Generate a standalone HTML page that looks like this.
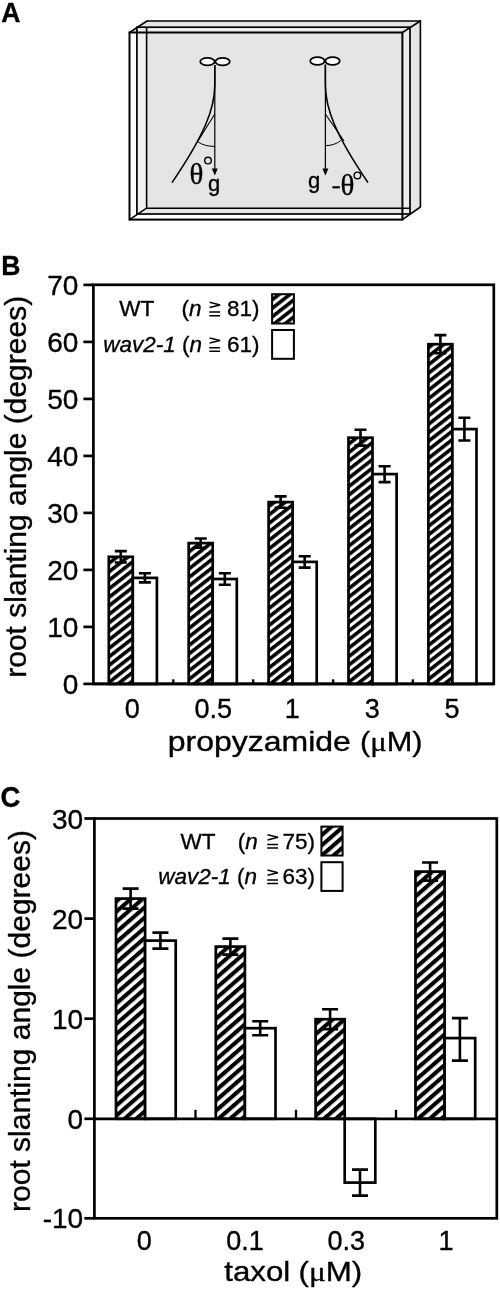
<!DOCTYPE html>
<html><head><meta charset="utf-8"><title>Figure</title>
<style>
html,body{margin:0;padding:0;background:#fff;}
body{width:500px;height:1291px;overflow:hidden;font-family:"Liberation Sans",sans-serif;}
svg{display:block;position:absolute;left:0;top:0;will-change:transform;}
text{font-family:"Liberation Sans",sans-serif;fill:#000;stroke:#000;stroke-width:0.35px;stroke-linejoin:round;}
.serif{font-family:"Liberation Serif",serif;}
.b{font-weight:bold;}
.i{font-style:italic;}
</style></head><body>
<svg width="500" height="1291" viewBox="0 0 500 1291">
<defs>
<pattern id="hatch" patternUnits="userSpaceOnUse" width="6.7" height="6.7" patternTransform="rotate(-38)">
<rect x="0" y="0" width="6.7" height="6.7" fill="#fff"/>
<rect x="0" y="0" width="6.7" height="3.6" fill="#000"/>
</pattern>
<pattern id="hatchC" patternUnits="userSpaceOnUse" width="7.7" height="7.7" patternTransform="rotate(-41)">
<rect x="0" y="0" width="7.7" height="7.7" fill="#fff"/>
<rect x="0" y="0" width="7.7" height="4.1" fill="#000"/>
</pattern>
</defs>
<rect x="0" y="0" width="500" height="1291" fill="#fff"/>

<text class="b" transform="translate(1.2,22) scale(0.95,1)" font-size="28">A</text>
<text class="b" transform="translate(1.2,274.6) scale(0.95,1)" font-size="28">B</text>
<text class="b" transform="translate(0.6,807) scale(0.95,1)" font-size="29">C</text>
<g id="panelA" fill="none" stroke="#000" stroke-linejoin="miter">
<polygon points="129.5,32.5 147,21 420.4,21 420.4,207 402.4,219.6 129.5,219.6" fill="#f1f1f1" stroke="none"/>
<polygon points="147,21 420.4,21 420.4,207 410,214 146.6,214 146.6,27.2 137,27.2" fill="#e5e5e5" stroke="none"/>
<rect x="137" y="27.2" width="273" height="5.3" fill="#ececec" stroke="none"/>
<rect x="402.4" y="27.2" width="7.6" height="186.8" fill="#ececec" stroke="none"/>
<rect x="129.5" y="32.5" width="7.4" height="187.1" fill="#fff" stroke="none"/>
<rect x="129.5" y="214" width="272.9" height="5.6" fill="#fff" stroke="none"/>
<path d="M147,21 H420.4 V207 M410,208.2 H146.6 V27.2" stroke-width="1.6"/>
<rect x="136.9" y="27.2" width="273.1" height="186.8" stroke-width="1.7"/>
<rect x="129.5" y="32.5" width="272.9" height="187.1" stroke-width="2"/>
<line x1="129.5" y1="32.5" x2="147" y2="21" stroke-width="1.6" stroke-linecap="round"/>
<line x1="402.4" y1="32.5" x2="420.4" y2="21" stroke-width="1.6" stroke-linecap="round"/>
<line x1="402.4" y1="219.6" x2="420.4" y2="207" stroke-width="1.6" stroke-linecap="round"/>
<line x1="129.5" y1="219.6" x2="146.6" y2="208.2" stroke-width="1.6" stroke-linecap="round"/>
<ellipse cx="207.4" cy="61.6" rx="7.2" ry="3.8" fill="#fff" stroke-width="1.7"/>
<ellipse cx="222.6" cy="61.6" rx="7.2" ry="3.8" fill="#fff" stroke-width="1.7"/>
<line x1="214.8" y1="65" x2="214.8" y2="170" stroke-width="1.2"/>
<polygon points="211.8,168.5 217.8,168.5 214.8,175.5" fill="#000" stroke="none"/>
<path d="M214.8,65 L214.8,85 C214.8,108 205,134 172,182.6" stroke-width="1.6"/>
<path d="M214.8,114 L198,141" stroke-width="1.1"/>
<path d="M198,142 Q205,146.5 214.8,146.4" stroke-width="1.0"/>
<ellipse cx="317.4" cy="61" rx="7.2" ry="3.8" fill="#fff" stroke-width="1.7"/>
<ellipse cx="332.6" cy="61" rx="7.2" ry="3.8" fill="#fff" stroke-width="1.7"/>
<line x1="325.4" y1="64.5" x2="325.4" y2="170" stroke-width="1.2"/>
<polygon points="322.4,168.5 328.4,168.5 325.4,175.5" fill="#000" stroke="none"/>
<path d="M325.4,64.5 L325.4,85 C325.4,108 335,134 368,182.6" stroke-width="1.6"/>
<path d="M325.4,114 L344,141" stroke-width="1.1"/>
<path d="M325.4,145.6 Q334.5,145.6 340.8,140.6" stroke-width="1.0"/>
</g>
<text class="serif" x="189.6" y="183.6" font-size="29">θ</text>
<circle cx="208" cy="160.6" r="3.3" fill="none" stroke="#000" stroke-width="1.4"/>
<text x="208" y="190.6" font-size="22">g</text>
<text x="308" y="188" font-size="22">g</text>
<rect x="332.4" y="186.2" width="7.4" height="2.2" fill="#000"/>
<text class="serif" x="340.6" y="195.1" font-size="29">θ</text>
<circle cx="357.4" cy="175.4" r="3.3" fill="none" stroke="#000" stroke-width="1.4"/>
<rect x="93.4" y="284.8" width="400.4" height="399.09999999999997" fill="#fff" stroke="#000" stroke-width="2.7"/>
<line x1="83.4" y1="683.9" x2="93.4" y2="683.9" stroke="#000" stroke-width="2.7"/>
<text x="78.4" y="693.9" font-size="28" text-anchor="end">0</text>
<line x1="83.4" y1="626.9" x2="93.4" y2="626.9" stroke="#000" stroke-width="2.7"/>
<text x="78.4" y="636.9" font-size="28" text-anchor="end">10</text>
<line x1="83.4" y1="569.9" x2="93.4" y2="569.9" stroke="#000" stroke-width="2.7"/>
<text x="78.4" y="579.9" font-size="28" text-anchor="end">20</text>
<line x1="83.4" y1="512.9" x2="93.4" y2="512.9" stroke="#000" stroke-width="2.7"/>
<text x="78.4" y="522.9" font-size="28" text-anchor="end">30</text>
<line x1="83.4" y1="455.9" x2="93.4" y2="455.9" stroke="#000" stroke-width="2.7"/>
<text x="78.4" y="465.9" font-size="28" text-anchor="end">40</text>
<line x1="83.4" y1="398.9" x2="93.4" y2="398.9" stroke="#000" stroke-width="2.7"/>
<text x="78.4" y="408.9" font-size="28" text-anchor="end">50</text>
<line x1="83.4" y1="341.9" x2="93.4" y2="341.9" stroke="#000" stroke-width="2.7"/>
<text x="78.4" y="351.9" font-size="28" text-anchor="end">60</text>
<line x1="83.4" y1="284.9" x2="93.4" y2="284.9" stroke="#000" stroke-width="2.7"/>
<text x="78.4" y="294.9" font-size="28" text-anchor="end">70</text>
<rect x="108.8" y="556.8" width="24.0" height="127.1" fill="url(#hatch)" stroke="#000" stroke-width="2.7"/>
<path d="M114.8,551.1 H126.8 M114.8,562.5 H126.8 M120.8,551.1 V562.5" fill="none" stroke="#000" stroke-width="2.6"/>
<rect x="132.8" y="577.9" width="24.1" height="106.0" fill="#fff" stroke="#000" stroke-width="2.7"/>
<path d="M138.9,573.3 H150.9 M138.9,582.4 H150.9 M144.9,573.3 V582.4" fill="none" stroke="#000" stroke-width="2.6"/>
<rect x="188.7" y="543.1" width="24.0" height="140.8" fill="url(#hatch)" stroke="#000" stroke-width="2.7"/>
<path d="M194.7,538.5 H206.7 M194.7,547.7 H206.7 M200.7,538.5 V547.7" fill="none" stroke="#000" stroke-width="2.6"/>
<rect x="212.7" y="579.0" width="24.1" height="104.9" fill="#fff" stroke="#000" stroke-width="2.7"/>
<path d="M218.8,573.3 H230.8 M218.8,584.7 H230.8 M224.8,573.3 V584.7" fill="none" stroke="#000" stroke-width="2.6"/>
<rect x="268.6" y="502.1" width="24.0" height="181.8" fill="url(#hatch)" stroke="#000" stroke-width="2.7"/>
<path d="M274.6,496.4 H286.6 M274.6,507.8 H286.6 M280.6,496.4 V507.8" fill="none" stroke="#000" stroke-width="2.6"/>
<rect x="292.6" y="561.9" width="24.1" height="122.0" fill="#fff" stroke="#000" stroke-width="2.7"/>
<path d="M298.7,556.2 H310.7 M298.7,567.6 H310.7 M304.7,556.2 V567.6" fill="none" stroke="#000" stroke-width="2.6"/>
<rect x="348.5" y="437.7" width="24.0" height="246.2" fill="url(#hatch)" stroke="#000" stroke-width="2.7"/>
<path d="M354.5,429.7 H366.5 M354.5,445.6 H366.5 M360.5,429.7 V445.6" fill="none" stroke="#000" stroke-width="2.6"/>
<rect x="372.5" y="474.1" width="24.1" height="209.8" fill="#fff" stroke="#000" stroke-width="2.7"/>
<path d="M378.6,466.2 H390.6 M378.6,482.1 H390.6 M384.6,466.2 V482.1" fill="none" stroke="#000" stroke-width="2.6"/>
<rect x="428.4" y="344.2" width="24.0" height="339.7" fill="url(#hatch)" stroke="#000" stroke-width="2.7"/>
<path d="M434.4,335.1 H446.4 M434.4,353.3 H446.4 M440.4,335.1 V353.3" fill="none" stroke="#000" stroke-width="2.6"/>
<rect x="452.4" y="429.1" width="24.1" height="254.8" fill="#fff" stroke="#000" stroke-width="2.7"/>
<path d="M458.4,417.7 H470.4 M458.4,440.5 H470.4 M464.4,417.7 V440.5" fill="none" stroke="#000" stroke-width="2.6"/>
<line x1="93.4" y1="683.9" x2="493.8" y2="683.9" stroke="#000" stroke-width="2.7"/>
<line x1="173.3" y1="683.9" x2="173.3" y2="679.3" stroke="#000" stroke-width="2.3"/>
<line x1="253.2" y1="683.9" x2="253.2" y2="679.3" stroke="#000" stroke-width="2.3"/>
<line x1="333.1" y1="683.9" x2="333.1" y2="679.3" stroke="#000" stroke-width="2.3"/>
<line x1="412.8" y1="683.9" x2="412.8" y2="679.3" stroke="#000" stroke-width="2.3"/>
<text x="132.2" y="717.8" font-size="27" text-anchor="middle">0</text>
<text x="213.2" y="717.8" font-size="27" text-anchor="middle">0.5</text>
<text x="292.2" y="717.8" font-size="27" text-anchor="middle">1</text>
<text x="372.2" y="717.8" font-size="27" text-anchor="middle">3</text>
<text x="452" y="717.8" font-size="27" text-anchor="middle">5</text>
<text x="119.3" y="316.2" font-size="22.5">WT</text>
<text x="181.6" y="316.2" font-size="22.5">(<tspan class="i">n</tspan></text>
<path d="M209.6,302.3 L220.1,304.9 L209.6,307.5 M209.3,312.1 H220.1 M209.3,315.7 H220.1" fill="none" stroke="#000" stroke-width="1.5"/>
<text x="227" y="316.2" font-size="22.5">81)</text>
<text x="103.3" y="351.8" font-size="22.5"><tspan class="i">wav2-1</tspan> (<tspan class="i">n</tspan></text>
<path d="M209.6,337.9 L220.1,340.5 L209.6,343.1 M209.3,347.7 H220.1 M209.3,351.3 H220.1" fill="none" stroke="#000" stroke-width="1.5"/>
<text x="227" y="351.8" font-size="22.5">61)</text>
<rect x="272.1" y="294.2" width="21.8" height="29.3" fill="url(#hatch)" stroke="#000" stroke-width="2"/>
<rect x="272.1" y="330" width="21.8" height="28.8" fill="#fff" stroke="#000" stroke-width="2"/>
<text transform="translate(167.7,751.4) scale(1.131,1)" font-size="28.3">propyzamide</text>
<text transform="translate(360,751.4) scale(1.085,1)" font-size="28.3">(<tspan class="serif">μ</tspan>M)</text>
<text transform="translate(25.8,486.8) rotate(-90)" font-size="30" text-anchor="middle">root slanting angle (degrees)</text>
<rect x="94.4" y="818.5" width="402.4" height="399.79999999999995" fill="#fff" stroke="#000" stroke-width="2.7"/>
<line x1="84.4" y1="1218.3" x2="94.4" y2="1218.3" stroke="#000" stroke-width="2.7"/>
<text x="83.1" y="1228.3" font-size="28" text-anchor="end">-10</text>
<line x1="84.4" y1="1118.8" x2="94.4" y2="1118.8" stroke="#000" stroke-width="2.7"/>
<text x="83.1" y="1128.8" font-size="28" text-anchor="end">0</text>
<line x1="84.4" y1="1018.7" x2="94.4" y2="1018.7" stroke="#000" stroke-width="2.7"/>
<text x="83.1" y="1028.7" font-size="28" text-anchor="end">10</text>
<line x1="84.4" y1="918.6" x2="94.4" y2="918.6" stroke="#000" stroke-width="2.7"/>
<text x="83.1" y="928.6" font-size="28" text-anchor="end">20</text>
<line x1="84.4" y1="818.5" x2="94.4" y2="818.5" stroke="#000" stroke-width="2.7"/>
<text x="83.1" y="828.5" font-size="28" text-anchor="end">30</text>
<rect x="116.0" y="898.6" width="29.1" height="220.2" fill="url(#hatchC)" stroke="#000" stroke-width="2.7"/>
<path d="M122.6,888.6 H138.6 M122.6,908.6 H138.6 M130.6,888.6 V908.6" fill="none" stroke="#000" stroke-width="2.6"/>
<rect x="145.1" y="940.6" width="30.6" height="178.2" fill="#fff" stroke="#000" stroke-width="2.7"/>
<path d="M152.4,932.6 H168.4 M152.4,948.6 H168.4 M160.4,932.6 V948.6" fill="none" stroke="#000" stroke-width="2.6"/>
<rect x="215.8" y="946.6" width="29.1" height="172.2" fill="url(#hatchC)" stroke="#000" stroke-width="2.7"/>
<path d="M222.4,938.6 H238.4 M222.4,954.6 H238.4 M230.4,938.6 V954.6" fill="none" stroke="#000" stroke-width="2.6"/>
<rect x="244.9" y="1028.2" width="30.6" height="90.6" fill="#fff" stroke="#000" stroke-width="2.7"/>
<path d="M252.2,1021.2 H268.2 M252.2,1035.2 H268.2 M260.2,1021.2 V1035.2" fill="none" stroke="#000" stroke-width="2.6"/>
<rect x="315.6" y="1019.2" width="29.1" height="99.6" fill="url(#hatchC)" stroke="#000" stroke-width="2.7"/>
<path d="M322.1,1009.2 H338.1 M322.1,1029.2 H338.1 M330.1,1009.2 V1029.2" fill="none" stroke="#000" stroke-width="2.6"/>
<rect x="344.7" y="1118.8" width="30.6" height="63.8" fill="#fff" stroke="#000" stroke-width="2.7"/>
<path d="M352.0,1169.6 H368.0 M352.0,1195.6 H368.0 M360.0,1169.6 V1195.6" fill="none" stroke="#000" stroke-width="2.6"/>
<rect x="415.5" y="871.6" width="29.1" height="247.2" fill="url(#hatchC)" stroke="#000" stroke-width="2.7"/>
<path d="M422.1,862.5 H438.1 M422.1,880.6 H438.1 M430.1,862.5 V880.6" fill="none" stroke="#000" stroke-width="2.6"/>
<rect x="444.6" y="1038.1" width="30.6" height="80.7" fill="#fff" stroke="#000" stroke-width="2.7"/>
<path d="M451.9,1018.1 H467.9 M451.9,1060.6 H467.9 M459.9,1018.1 V1060.6" fill="none" stroke="#000" stroke-width="2.6"/>
<line x1="94.4" y1="1118.8" x2="496.8" y2="1118.8" stroke="#000" stroke-width="2.7"/>
<line x1="195.5" y1="1118.8" x2="195.5" y2="1109.8" stroke="#000" stroke-width="2.3"/>
<line x1="296" y1="1118.8" x2="296" y2="1109.8" stroke="#000" stroke-width="2.3"/>
<line x1="396" y1="1118.8" x2="396" y2="1109.8" stroke="#000" stroke-width="2.3"/>
<text x="144.2" y="1249.8" font-size="27" text-anchor="middle">0</text>
<text x="245" y="1249.8" font-size="27" text-anchor="middle">0.1</text>
<text x="346.2" y="1249.8" font-size="27" text-anchor="middle">0.3</text>
<text x="446" y="1249.8" font-size="27" text-anchor="middle">1</text>
<text x="180.6" y="848.6" font-size="22.5">WT</text>
<text x="237.7" y="848.6" font-size="22.5">(<tspan class="i">n</tspan></text>
<path d="M267.5,834.7 L278.0,837.3 L267.5,839.9 M267.2,844.5 H278.0 M267.2,848.1 H278.0" fill="none" stroke="#000" stroke-width="1.5"/>
<text x="282.4" y="848.6" font-size="22.5">75)</text>
<text x="158.3" y="884" font-size="22.5"><tspan class="i">wav2-1</tspan> (<tspan class="i">n</tspan></text>
<path d="M267.5,870.1 L278.0,872.7 L267.5,875.3 M267.2,879.9 H278.0 M267.2,883.5 H278.0" fill="none" stroke="#000" stroke-width="1.5"/>
<text x="282.4" y="884" font-size="22.5">63)</text>
<rect x="321.4" y="826.6" width="21.2" height="28.9" fill="url(#hatchC)" stroke="#000" stroke-width="2"/>
<rect x="321.4" y="862.2" width="21.2" height="28.7" fill="#fff" stroke="#000" stroke-width="2"/>
<text transform="translate(224.2,1281.3) scale(1.105,1)" font-size="28.3">taxol</text>
<text transform="translate(298.5,1281.3) scale(1.105,1)" font-size="28.3">(<tspan class="serif">μ</tspan>M)</text>
<text transform="translate(30,1021) rotate(-90)" font-size="30" text-anchor="middle">root slanting angle (degrees)</text>
</svg></body></html>
